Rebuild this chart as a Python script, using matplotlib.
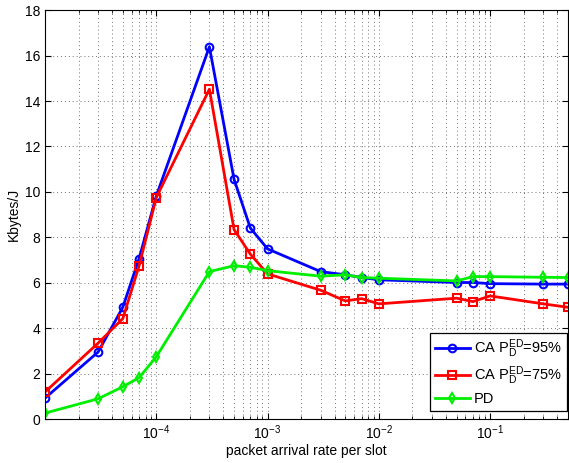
import numpy as np
import matplotlib.pyplot as plt
from matplotlib.ticker import LogLocator, NullFormatter

plt.rcParams['font.family'] = ['Liberation Sans', 'DejaVu Sans']
plt.rcParams['mathtext.fontset'] = 'custom'
plt.rcParams['mathtext.rm'] = 'Liberation Sans'

# packet arrival rate per slot
rate = [1e-5, 3e-5, 5e-5, 7e-5, 1e-4, 3e-4, 5e-4, 7e-4, 1e-3,
        3e-3, 5e-3, 7e-3, 1e-2, 5e-2, 7e-2, 1e-1, 3e-1, 5e-1]

ca95 = [0.92, 2.95, 4.92, 7.06, 9.82, 16.39, 10.55, 8.41, 7.49,
        6.49, 6.35, 6.23, 6.13, 6.01, 6.01, 5.96, 5.94, 5.94]
ca75 = [1.19, 3.34, 4.42, 6.74, 9.75, 14.52, 8.34, 7.26, 6.39,
        5.67, 5.20, 5.30, 5.07, 5.32, 5.17, 5.42, 5.07, 4.92]
pd_ = [0.26, 0.89, 1.42, 1.82, 2.74, 6.49, 6.75, 6.68, 6.53,
       6.29, 6.35, 6.23, 6.20, 6.08, 6.27, 6.27, 6.24, 6.23]

labels = [r'CA $\mathregular{P_D^{ED}}$=95%',
          r'CA $\mathregular{P_D^{ED}}$=75%',
          'PD']

fig = plt.figure(figsize=(5.69, 4.63), dpi=100)
ax = fig.add_axes([0.0791, 0.095, 0.919, 0.883])

ax.semilogx(rate, ca95, '-o', color='#0000ff', lw=2, ms=5.5, mfc='none', mew=1.5, label=labels[0])
ax.semilogx(rate, ca75, '-s', color='#ff0000', lw=2, ms=5.5, mfc='none', mew=1.5, label=labels[1])
ax.semilogx(rate, pd_, '-d', color='#00ee00', lw=2, ms=5.5, mfc='none', mew=1.5, label=labels[2])

ax.set_xlim(1e-5, 5e-1)
ax.set_ylim(0, 18)
ax.set_yticks(np.arange(0, 19, 2))
ax.set_xticks([1e-4, 1e-3, 1e-2, 1e-1])
ax.xaxis.set_minor_locator(LogLocator(base=10, subs=np.arange(2, 10), numticks=20))
ax.xaxis.set_minor_formatter(NullFormatter())

ax.tick_params(which='both', direction='in', top=True, right=True, labelsize=10)
ax.tick_params(which='major', length=4)
ax.tick_params(which='minor', length=2)

grid_kw = dict(linestyle=(0, (1, 3)), color='0.45', lw=0.7)
ax.grid(True, which='major', **grid_kw)
ax.grid(True, which='minor', axis='x', **grid_kw)
ax.set_axisbelow(True)

ax.set_xlabel('packet arrival rate per slot', fontsize=10, labelpad=1)
ax.set_ylabel('Kbytes/J', fontsize=10, labelpad=3)

leg = ax.legend(loc='lower right', bbox_to_anchor=(0.999, 0.02), fontsize=10.5,
                fancybox=False, framealpha=1, edgecolor='black', borderaxespad=0,
                handlelength=2.4, handletextpad=0.3, labelspacing=0.3, borderpad=0.35)
leg.get_frame().set_linewidth(0.9)

fig.savefig('out.png', dpi=100)
